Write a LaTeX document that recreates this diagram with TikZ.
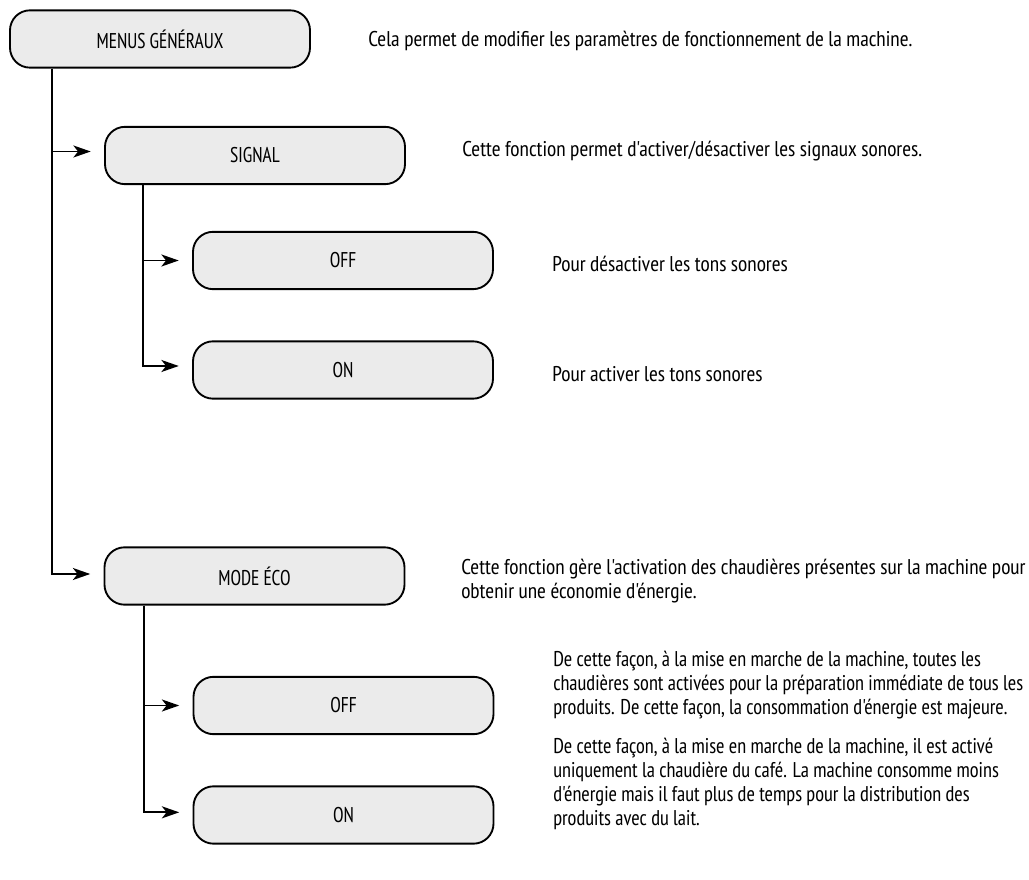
\documentclass[tikz,border=0pt]{standalone}
\usepackage{fontspec}
\usetikzlibrary{arrows.meta}
\newfontfamily\descfont{PT Sans Narrow}
\newfontfamily\narrowdescfont[FakeStretch=0.955]{PT Sans Narrow}
\newfontfamily\boxfont[FakeStretch=0.9]{PT Sans Narrow}
\newcommand{\mylines}[1]{\begin{tabular}[t]{@{}l@{}}#1\end{tabular}}
\definecolor{boxfill}{HTML}{EBEBEB}
\begin{document}
\begin{tikzpicture}[x=0.75pt,y=-0.75pt,
  menubox/.style={draw=black, fill=boxfill, line width=1.4pt, rounded corners=15pt,
    minimum width=225pt, minimum height=43pt, inner sep=0pt,
    font=\boxfont\fontsize{16}{18}\selectfont},
  desc/.style={anchor=base west, inner sep=0pt,
    font=\descfont\fontsize{16}{18}\selectfont},
  descnarrow/.style={anchor=base west, inner sep=0pt,
    font=\narrowdescfont\fontsize{16}{18}\selectfont},
  conn/.style={line width=1.4pt, -{Stealth[length=13pt,width=9pt,inset=3.5pt]}, shorten >=10pt}
]
\useasboundingbox (0,0) rectangle (1029,880);

% boxes
\node[menubox] (menus)  at (160,39)   {MENUS GÉNÉRAUX};
\node[menubox] (signal) at (255,155.5) {SIGNAL};
\node[menubox] (soff)   at (343,260.5) {OFF};
\node[menubox] (son)    at (343,370)   {ON};
\node[menubox] (eco)    at (254.5,576) {MODE ÉCO};
\node[menubox] (eoff)   at (343.5,705.5) {OFF};
\node[menubox] (eon)    at (343.5,815) {ON};

% trunk coordinates
\coordinate (t0) at ([xshift=32.25pt]menus.south west);
\coordinate (t1) at ([xshift=29.25pt]signal.south west);
\coordinate (t2) at ([xshift=30pt]eco.south west);

% connectors
\draw[conn] (t0) |- ([yshift=3pt]signal.west);
\draw[conn] (t0) |- ([yshift=1.5pt]eco.west);
\draw[conn] (t1) |- (soff.west);
\draw[conn] (t1) |- ([yshift=3pt]son.west);
\draw[conn] (t2) |- (eoff.west);
\draw[conn] (t2) |- ([yshift=2pt]eon.west);

% descriptions
\node[desc] (dmenus) at (368,47) {Cela permet de modifier les paramètres de fonctionnement de la machine.};
\node[desc] (dsignal) at (462,157) {Cette fonction permet d'activer/désactiver les signaux sonores.};
\node[desc] (dsoff) at (552,272) {Pour désactiver les tons sonores};
\node[desc] (dson) at (552,382) {Pour activer les tons sonores};
\node[desc] (deco) at (461,575) {\mylines{Cette fonction gère l'activation des chaudières présentes sur la machine pour\\obtenir une économie d'énergie.}};
\node[descnarrow] (deoff) at (553,666) {\mylines{De cette façon, à la mise en marche de la machine, toutes les\\chaudières sont activées pour la préparation immédiate de tous les\\produits. De cette façon, la consommation d'énergie est majeure.}};
\node[descnarrow] (deon) at (553,753) {\mylines{De cette façon, à la mise en marche de la machine, il est activé\\uniquement la chaudière du café. La machine consomme moins\\d'énergie mais il faut plus de temps pour la distribution des\\produits avec du lait.}};
\end{tikzpicture}
\end{document}
